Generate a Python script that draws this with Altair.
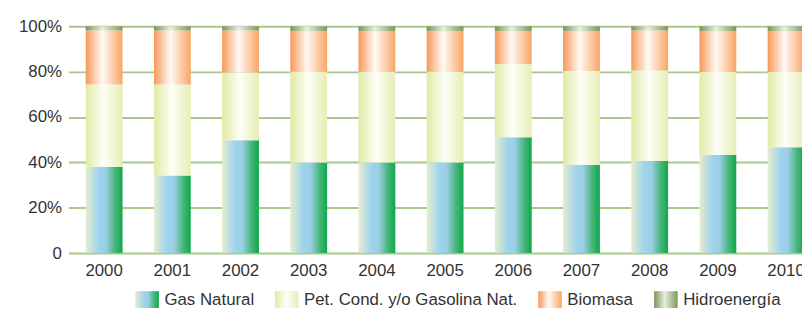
import altair as alt
import pandas as pd

years = ["2000", "2001", "2002", "2003", "2004", "2005", "2006", "2007", "2008", "2009", "2010"]
series = ["Gas Natural", "Pet. Cond. y/o Gasolina Nat.", "Biomasa", "Hidroenergía"]
gas = [38.1, 34.2, 49.8, 39.9, 39.9, 39.9, 51.1, 38.9, 40.6, 43.2, 46.7]
pet = [36.3, 40.2, 29.8, 40.1, 40.1, 40.1, 32.3, 41.4, 39.9, 36.7, 33.2]
bio = [23.8, 23.8, 18.6, 17.8, 17.8, 17.8, 14.4, 17.5, 17.7, 17.9, 17.9]
hidro = [1.8, 1.8, 1.8, 2.2, 2.2, 2.2, 2.2, 2.2, 1.8, 2.2, 2.2]
y_ticks = [0, 20, 40, 60, 80, 100]

rows = []
for i, yr in enumerate(years):
    for k, (s, vals) in enumerate(zip(series, [gas, pet, bio, hidro])):
        rows.append({"year": yr, "series": s, "order": k, "value": vals[i]})
df = pd.DataFrame(rows)

FONT = "Liberation Sans"
FS = 17
TXT = "#333333"

stops = {
    "Gas Natural": [(0, "#e6edcd"), (0.35, "#9fd3ee"), (0.55, "#9acfe3"), (0.8, "#46b57a"), (1, "#0fa84a")],
    "Pet. Cond. y/o Gasolina Nat.": [(0, "#e0eaa4"), (0.48, "#fdfef8"), (1, "#e6eeb4")],
    "Biomasa": [(0, "#f8985a"), (0.45, "#fffaf5"), (1, "#f9a566")],
    "Hidroenergía": [(0, "#7a955a"), (0.45, "#e8eedc"), (1, "#7d985d")],
}


def grad(st):
    return alt.LinearGradient(
        gradient="linear", x1=0, y1=0, x2=1, y2=0,
        stops=[alt.GradientStop(offset=o, color=c) for o, c in st],
    )


def grad_js(st):
    return ("{gradient:'linear',x1:0,y1:0,x2:1,y2:0,stops:["
            + ",".join("{offset:%s,color:'%s'}" % (o, c) for o, c in st) + "]}")


legend_expr = ""
for s in series[:-1]:
    legend_expr += "datum.value === '%s' ? %s : " % (s, grad_js(stops[s]))
legend_expr += grad_js(stops[series[-1]])

x_enc = alt.X(
    "year:O", sort=years,
    scale=alt.Scale(range=[0, 761], paddingInner=0.46, paddingOuter=0.254),
    axis=alt.Axis(title=None, ticks=False, domain=False, grid=False, labelAngle=0,
                  labelPadding=10, labelFont=FONT, labelFontSize=FS, labelColor=TXT),
)
y_enc = alt.Y(
    "y0:Q",
    scale=alt.Scale(domain=[0, 100], nice=False),
    axis=alt.Axis(title=None, values=y_ticks, ticks=False, domain=False,
                  labelExpr="datum.value == 0 ? '0' : datum.value + '%'",
                  labelPadding=7, labelFont=FONT, labelFontSize=FS, labelColor=TXT,
                  grid=True, gridColor="#a8c98b", gridWidth=2, gridOpacity=1),
)

base = alt.Chart(df).transform_stack(
    stack="value", groupby=["year"], as_=["y0", "y1"],
    sort=[alt.SortField("order", "ascending")],
)

layers = []
for s in series:
    layers.append(
        base.transform_filter(alt.datum.series == s)
        .mark_bar(color=grad(stops[s]), strokeWidth=0)
        .encode(x=x_enc, y=y_enc, y2="y1:Q")
    )

SWATCH = "M-1.4,-1H1.4V1H-1.4Z"
legend_layer = base.mark_point(filled=True, opacity=0).encode(
    x=x_enc, y=y_enc,
    color=alt.Color("series:N", legend=None),
    shape=alt.Shape(
        "series:N", sort=series,
        scale=alt.Scale(domain=series, range=[SWATCH] * 4),
        legend=alt.Legend(
            title=None, orient="none", legendX=71, legendY=267.5,
            direction="horizontal", columns=4, padding=0, offset=0,
            symbolSize=289, symbolStrokeWidth=0, symbolOpacity=1,
            symbolFillColor=alt.ExprRef(expr=legend_expr),
            labelFont=FONT, labelFontSize=FS, labelColor=TXT,
            labelOffset=9, columnPadding=20, labelLimit=400,
        ),
    ),
)

chart = alt.layer(*layers, legend_layer).properties(
    width=741, height=229,
    autosize=alt.AutoSizeParams(type="none"),
    padding={"left": 61, "top": 17, "right": 0, "bottom": 57},
    background="white",
).configure_view(stroke=None)

chart.save("out.html", embed_options={"renderer": "svg", "actions": False})
